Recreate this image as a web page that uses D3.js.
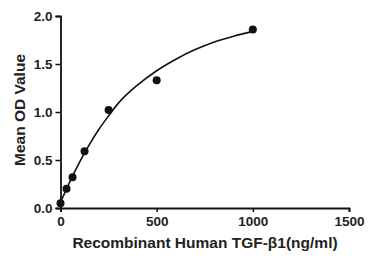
<!DOCTYPE html>
<html>
<head>
  <meta charset="utf-8">
  <title>TGF-b1 standard curve</title>
  <script src="https://d3js.org/d3.v7.min.js"></script>
  <style>
    body { margin: 0; background: #fff; font-family: Arial, "Liberation Sans", sans-serif; }
  </style>
</head>
<body>
<div id="chart"></div>
<script>
var width = 373;
var height = 261;

// ----- Data -----
var conc = [0, 31.25, 62.5, 125, 250, 500, 1000];
var od = [0.05, 0.20, 0.32, 0.59, 1.02, 1.33, 1.86];

// fitted curve
var fitX = [0, 25, 50, 100, 150, 200, 250, 300, 400, 500, 600, 700, 800, 900, 1000];
var fitY = [0.06, 0.17, 0.28, 0.48, 0.66, 0.82, 0.96, 1.09, 1.28, 1.43, 1.55, 1.65, 1.73, 1.79, 1.84];

var xTicks = [0, 500, 1000, 1500];
var yTicks = [0.0, 0.5, 1.0, 1.5, 2.0];

// ----- Main -----
var svg = d3.select("#chart").append("svg")
  .attr("width", width)
  .attr("height", height);

var x = d3.scaleLinear().domain([0, 1500]).range([60.5, 349]);
var y = d3.scaleLinear().domain([0, 2]).range([208, 16]);

var xAxis = svg.append("g")
  .attr("transform", "translate(0,208)")
  .call(d3.axisBottom(x).tickValues(xTicks).tickFormat(d3.format("d")).tickSize(4).tickPadding(4));

var yAxis = svg.append("g")
  .attr("transform", "translate(60.5,0)")
  .call(d3.axisLeft(y).tickValues(yTicks).tickFormat(d3.format(".1f")).tickSize(5).tickPadding(3));

[xAxis, yAxis].forEach(function(a) {
  a.select(".domain").attr("stroke", "#111").attr("stroke-width", 1.8);
  a.selectAll(".tick line").attr("stroke", "#111").attr("stroke-width", 1.5);
  a.selectAll(".tick text")
    .attr("fill", "#222")
    .style("font-size", "13.5px")
    .style("font-weight", "bold")
    .style("font-family", "Arial, 'Liberation Sans', sans-serif");
});

// curve
var line = d3.line()
  .x(function(d, i) { return x(fitX[i]); })
  .y(function(d, i) { return y(fitY[i]); })
  .curve(d3.curveMonotoneX);

svg.append("path")
  .datum(fitX)
  .attr("d", line)
  .attr("fill", "none")
  .attr("stroke", "#111")
  .attr("stroke-width", 1.6);

// points
svg.selectAll("circle.pt")
  .data(conc)
  .enter().append("circle")
  .attr("class", "pt")
  .attr("cx", function(d) { return x(d); })
  .attr("cy", function(d, i) { return y(od[i]); })
  .attr("r", 4)
  .attr("fill", "#111");

// axis titles
svg.append("text")
  .attr("x", 205)
  .attr("y", 248)
  .attr("text-anchor", "middle")
  .attr("fill", "#222")
  .style("font-size", "15.5px")
  .style("font-weight", "bold")
  .text("Recombinant Human TGF-β1(ng/ml)");

svg.append("text")
  .attr("transform", "translate(25,110) rotate(-90)")
  .attr("text-anchor", "middle")
  .attr("fill", "#222")
  .style("font-size", "15.5px")
  .style("font-weight", "bold")
  .text("Mean OD Value");
</script>
</body>
</html>
